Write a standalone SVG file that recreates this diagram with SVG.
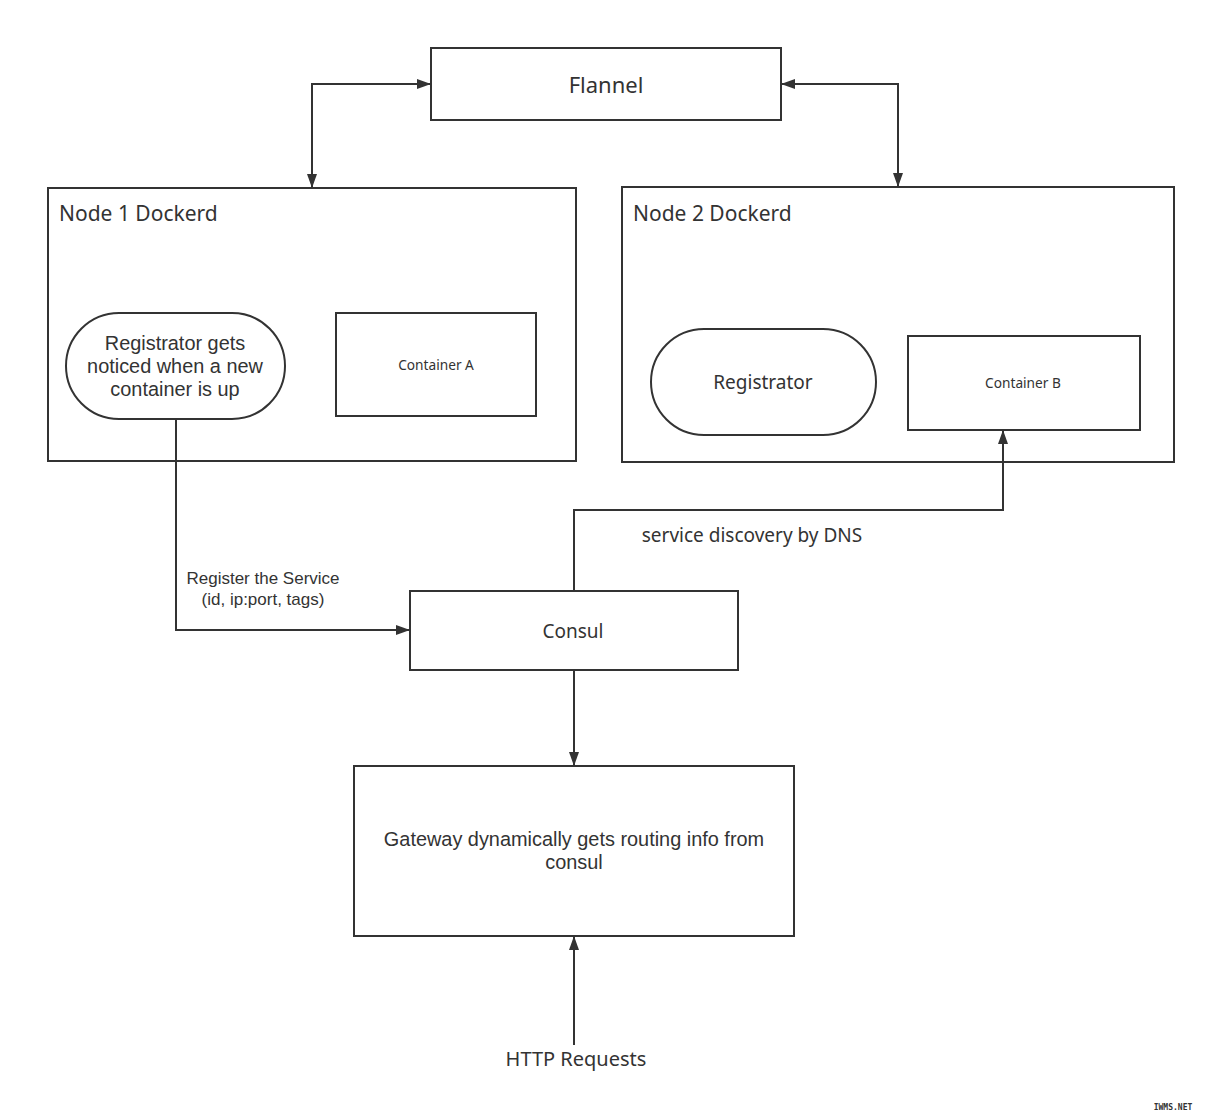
<svg xmlns="http://www.w3.org/2000/svg" width="1206" height="1119" viewBox="0 0 1206 1119">
<style>
.box{fill:#fff;stroke:#333;stroke-width:2}
.ln{fill:none;stroke:#333;stroke-width:2}
text{font-family:"Noto Sans","Open Sans","Liberation Sans",sans-serif;fill:#333;text-anchor:middle;dominant-baseline:central}
.ml{font-family:"Liberation Sans",Arial,sans-serif}
</style>
<defs>
<marker id="ah" viewBox="0 0 14 10" refX="14" refY="5" markerWidth="14" markerHeight="10" markerUnits="userSpaceOnUse" orient="auto-start-reverse">
<path d="M0,0 L14,5 L0,10 Z" fill="#333"/>
</marker>
</defs>
<rect width="1206" height="1119" fill="#fff"/>
<g id="flannel"><rect class="box" x="431" y="48" width="350" height="72"/><text x="606" y="84" font-size="22">Flannel</text></g>
<g id="node1"><rect class="box" x="48" y="188" width="528" height="273"/><text x="59" y="213" font-size="21" style="text-anchor:start">Node 1 Dockerd</text></g>
<g id="node2"><rect class="box" x="622" y="187" width="552" height="275"/><text x="633" y="213" font-size="21" style="text-anchor:start">Node 2 Dockerd</text></g>
<g id="registrator1"><rect class="box" x="66" y="313" width="219" height="106" rx="53" ry="53"/><text class="ml" x="175" y="343" font-size="19.9">Registrator gets</text><text class="ml" x="175" y="366" font-size="19.9">noticed when a new</text><text class="ml" x="175" y="389" font-size="19.9">container is up</text></g>
<g id="containerA"><rect class="box" x="336" y="313" width="200" height="103"/><text x="436" y="364" font-size="13.7">Container A</text></g>
<g id="registrator2"><rect class="box" x="651" y="329" width="225" height="106" rx="53" ry="53"/><text x="763" y="382" font-size="19">Registrator</text></g>
<g id="containerB"><rect class="box" x="908" y="336" width="232" height="94"/><text x="1023" y="382" font-size="13.7">Container B</text></g>
<g id="consul"><rect class="box" x="410" y="591" width="328" height="79"/><text x="573" y="631" font-size="19">Consul</text></g>
<g id="gateway"><rect class="box" x="354" y="766" width="440" height="170"/><text class="ml" x="574" y="839" font-size="19.9">Gateway dynamically gets routing info from</text><text class="ml" x="574" y="862" font-size="19.9">consul</text></g>
<g id="connectors">
<path class="ln" d="M312,188 L312,84 L431,84" marker-start="url(#ah)" marker-end="url(#ah)"/>
<path class="ln" d="M898,187 L898,84 L781,84" marker-start="url(#ah)" marker-end="url(#ah)"/>
<path class="ln" d="M176,419 L176,630 L410,630" marker-end="url(#ah)"/>
<path class="ln" d="M574,591 L574,510 L1003,510 L1003,430" marker-end="url(#ah)"/>
<path class="ln" d="M574,670 L574,766" marker-end="url(#ah)"/>
<path class="ln" d="M574,1045 L574,936" marker-end="url(#ah)"/>
<text class="ml" x="263" y="578" font-size="17">Register the Service</text>
<text class="ml" x="263" y="599" font-size="17">(id, ip:port, tags)</text>
<text x="752" y="535" font-size="19">service discovery by DNS</text>
</g>
<g id="http"><text x="576" y="1058" font-size="20">HTTP Requests</text></g>
<text x="1173" y="1107" font-size="8" style="font-family:'DejaVu Sans Mono',monospace;font-weight:bold" fill="#000">IWMS.NET</text>
</svg>
